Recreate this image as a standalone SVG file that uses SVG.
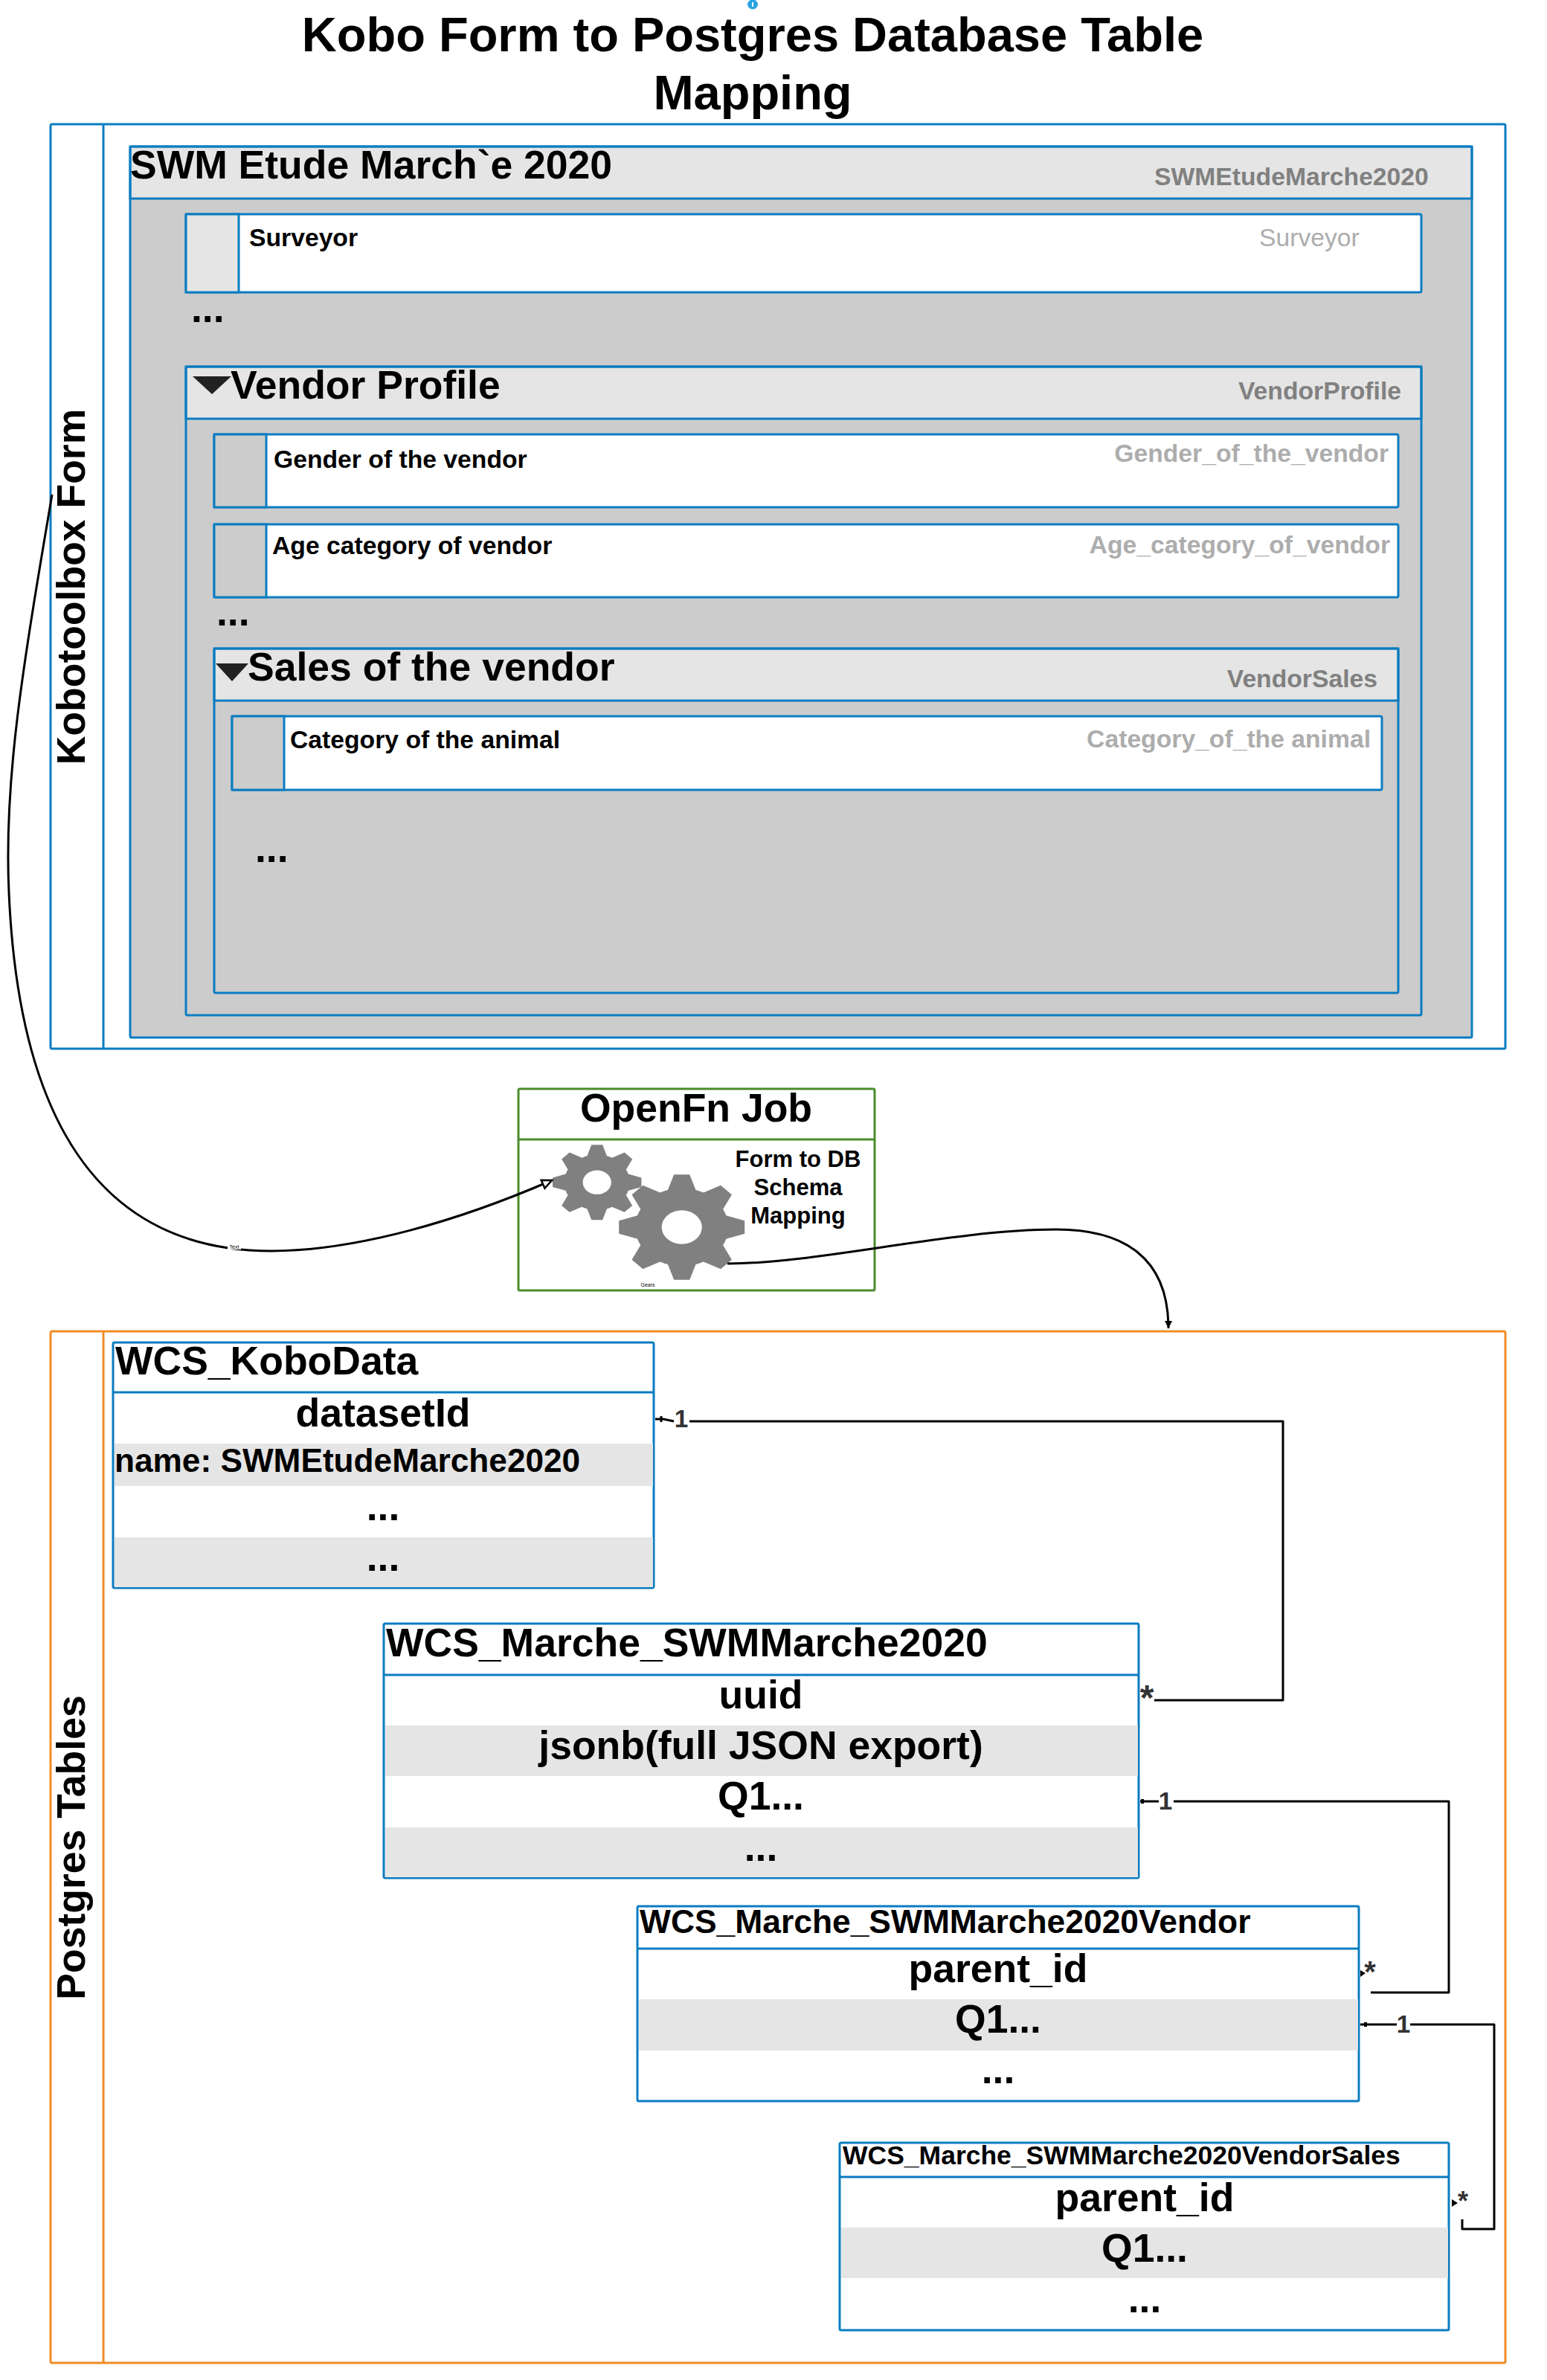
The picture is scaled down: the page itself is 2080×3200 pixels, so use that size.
<svg xmlns="http://www.w3.org/2000/svg" xmlns:xlink="http://www.w3.org/1999/xlink" width="2080" height="3200" viewBox="0 0 2080 3200">
<style>
text{font-family:"Liberation Sans",Arial,sans-serif;font-weight:bold;fill:#000}
.b{fill:none;stroke:#0b7cc1;stroke-width:3}
.w{fill:#fff;stroke:#0b7cc1;stroke-width:3}
.l{fill:#e5e5e5}
.c{fill:#ccc}
.g{fill:#e5e5e5;stroke:#0b7cc1;stroke-width:3}
.h{font-size:53.5px}
.m{font-size:44.2px}
.s{font-size:33.7px}
.n{font-weight:normal}
.gy{fill:#808080}
.lg{fill:#adadad}
.mid{text-anchor:middle}
.end{text-anchor:end}
.cn{fill:none;stroke:#000;stroke-width:3;stroke-linejoin:round}
.lb{fill:#333;font-size:33.33px}
.tiny{font-size:7px;font-weight:normal}
</style>
<defs>
<marker id="open" markerWidth="18" markerHeight="18" refX="15" refY="8" orient="auto" markerUnits="userSpaceOnUse"><path d="M2 2L15 8L2 14Z" fill="#fff" stroke="#000" stroke-width="2.5"/></marker>
<marker id="solid" markerWidth="14" markerHeight="14" refX="11" refY="6" orient="auto" markerUnits="userSpaceOnUse"><path d="M1 1L11 6L1 11Z" fill="#000"/></marker>
<g id="gear">
<circle r=".74" fill="#808080"/>
<g id="teeth" fill="#808080">
<path id="t" d="M-.25 -.62L-.125 -1L.125 -1L.25 -.62Z"/>
<use xlink:href="#t" transform="rotate(45)"/>
<use xlink:href="#t" transform="rotate(90)"/>
<use xlink:href="#t" transform="rotate(135)"/>
<use xlink:href="#t" transform="rotate(180)"/>
<use xlink:href="#t" transform="rotate(225)"/>
<use xlink:href="#t" transform="rotate(270)"/>
<use xlink:href="#t" transform="rotate(315)"/>
</g>
<circle r=".32" fill="#fff"/>
</g>
</defs>
<rect width="2080" height="3200" fill="#fff"/>

<g id="info"><ellipse cx="1012" cy="6" rx="7" ry="6.5" fill="#29a3e0"/><rect x="1011" y="3" width="2" height="6" fill="#fff"/></g>
<g id="title">
<text class="mid" x="1012" y="69" font-size="65">Kobo Form to Postgres Database Table</text>
<text class="mid" x="1012" y="147" font-size="65">Mapping</text>
</g>

<g id="kobo-pool">
<rect class="b" x="68" y="167" width="1956" height="1243" rx="2"/>
<line class="b" x1="139" y1="167" x2="139" y2="1410"/>
<text class="h mid" transform="translate(114 789) rotate(-90)">Kobotoolbox Form</text>
</g>
<g id="swm-form">
<rect class="c" x="175" y="197" width="1804" height="1198"/>
<rect class="g" x="175" y="197" width="1804" height="70"/>
<rect class="b" x="175" y="197" width="1804" height="1198" rx="2"/>
<text class="h" x="175" y="240">SWM Etude March`e 2020</text>
<text class="s gy" x="1552" y="249">SWMEtudeMarche2020</text>
</g>
<g id="surveyor">
<rect class="w" x="250" y="288" width="1661" height="105" rx="2"/>
<rect class="g" x="250" y="288" width="71" height="105"/>
<text class="s" x="335" y="331">Surveyor</text>
<text class="s n lg" x="1693" y="331">Surveyor</text>
</g>
<text id="dots1" class="h" x="257" y="433">...</text>
<g id="vendor-profile">
<rect class="c" x="250" y="493" width="1661" height="872"/>
<rect class="g" x="250" y="493" width="1661" height="70"/>
<rect class="b" x="250" y="493" width="1661" height="872" rx="2"/>
<path d="M259 506H311L285 530Z" fill="#222"/>
<text class="h" x="310" y="536">Vendor Profile</text>
<text class="s gy end" x="1884" y="537">VendorProfile</text>
</g>
<g id="gender">
<rect class="w" x="288" y="584" width="1592" height="98" rx="2"/>
<rect class="c" x="288" y="584" width="70" height="98" stroke="#0b7cc1" stroke-width="3"/>
<text class="s" x="368" y="629">Gender of the vendor</text>
<text class="s lg end" x="1867" y="621">Gender_of_the_vendor</text>
</g>
<g id="age">
<rect class="w" x="288" y="705" width="1592" height="98" rx="2"/>
<rect class="c" x="288" y="705" width="70" height="98" stroke="#0b7cc1" stroke-width="3"/>
<text class="s" x="366" y="745">Age category of vendor</text>
<text class="s lg end" x="1869" y="744">Age_category_of_vendor</text>
</g>
<text id="dots2" class="h" x="291" y="841">...</text>
<g id="vendor-sales">
<rect class="c" x="288" y="872" width="1592" height="463"/>
<rect class="g" x="288" y="872" width="1592" height="70"/>
<rect class="b" x="288" y="872" width="1592" height="463" rx="2"/>
<path d="M290 892H334L312 916Z" fill="#222"/>
<text class="h" x="333" y="915">Sales of the vendor</text>
<text class="s gy end" x="1852" y="924">VendorSales</text>
</g>
<g id="category">
<rect class="w" x="312" y="963" width="1546" height="99" rx="2"/>
<rect class="c" x="312" y="963" width="70" height="99" stroke="#0b7cc1" stroke-width="3"/>
<text class="s" x="390" y="1006">Category of the animal</text>
<text class="s lg end" x="1843" y="1005">Category_of_the animal</text>
</g>
<text id="dots3" class="h" x="343" y="1159">...</text>

<g id="openfn">
<rect x="697" y="1464" width="479" height="271" rx="2" fill="#fff" stroke="#4a8c2a" stroke-width="3"/>
<line x1="697" y1="1532" x2="1176" y2="1532" stroke="#4a8c2a" stroke-width="3"/>
<text class="h mid" x="936" y="1508">OpenFn Job</text>
<text class="mid" x="1073" y="1569" font-size="31">Form to DB</text>
<text class="mid" x="1073" y="1607" font-size="31">Schema</text>
<text class="mid" x="1073" y="1645" font-size="31">Mapping</text>
<use xlink:href="#gear" transform="translate(802.7 1589.7) scale(59.7 50.5)"/>
<use xlink:href="#gear" transform="translate(916.7 1650) scale(84.5 70.8)"/>
<text class="tiny mid" x="871" y="1730">Gears</text>
</g>

<g id="postgres-pool">
<rect x="68" y="1790" width="1956" height="1387" rx="2" fill="none" stroke="#f28c28" stroke-width="3"/>
<line x1="139" y1="1790" x2="139" y2="3177" stroke="#f28c28" stroke-width="3"/>
<text class="h mid" transform="translate(114 2484) rotate(-90)">Postgres Tables</text>
</g>

<g id="kobodata">
<rect class="w" x="152" y="1805" width="727" height="330" rx="2"/>
<rect class="l" x="154" y="1941" width="724" height="57"/>
<rect class="l" x="154" y="2067" width="724" height="67"/>
<line class="b" x1="152" y1="1872" x2="879" y2="1872"/>
<text class="h" x="155" y="1848">WCS_KoboData</text>
<text class="h mid" x="515" y="1918">datasetId</text>
<text class="m" x="154" y="1979">name: SWMEtudeMarche2020</text>
<text class="h mid" x="515" y="2044">...</text>
<text class="h mid" x="515" y="2112">...</text>
</g>
<g id="marche">
<rect class="w" x="516" y="2183" width="1015" height="342" rx="2"/>
<rect class="l" x="518" y="2320" width="1012" height="68"/>
<rect class="l" x="518" y="2457" width="1012" height="67"/>
<line class="b" x1="516" y1="2252" x2="1531" y2="2252"/>
<text class="h" x="519" y="2227">WCS_Marche_SWMMarche2020</text>
<text class="h mid" x="1023" y="2297">uuid</text>
<text class="h mid" x="1023" y="2365">jsonb(full JSON export)</text>
<text class="h mid" x="1023" y="2433">Q1...</text>
<text class="h mid" x="1023" y="2502">...</text>
</g>
<g id="vendor">
<rect class="w" x="857" y="2563" width="970" height="262" rx="2"/>
<rect class="l" x="859" y="2688" width="967" height="69"/>
<line class="b" x1="857" y1="2620" x2="1827" y2="2620"/>
<text x="860" y="2599" font-size="44.4">WCS_Marche_SWMMarche2020Vendor</text>
<text class="h mid" x="1342" y="2665">parent_id</text>
<text class="h mid" x="1342" y="2733">Q1...</text>
<text class="h mid" x="1342" y="2801">...</text>
</g>
<g id="vendorsales">
<rect class="w" x="1129" y="2881" width="819" height="252" rx="2"/>
<rect class="l" x="1131" y="2995" width="816" height="68"/>
<line class="b" x1="1129" y1="2927" x2="1948" y2="2927"/>
<text x="1133" y="2910" font-size="35.5">WCS_Marche_SWMMarche2020VendorSales</text>
<text class="h mid" x="1539" y="2973">parent_id</text>
<text class="h mid" x="1539" y="3041">Q1...</text>
<text class="h mid" x="1539" y="3109">...</text>
</g>

<g id="connectors">
<path class="cn" marker-end="url(#open)" d="M70 665C30 900 5 1050 12 1200C25 1500 130 1682 365 1682C480 1682 620 1640 742 1587"/>
<path class="cn" marker-end="url(#solid)" d="M978 1699C1100 1699 1280 1653 1420 1653C1510 1653 1571 1690 1571 1786"/>
<path class="cn" d="M927 1911H1725V2286H1552"/>
<path class="cn" d="M881 1908H892L906 1911"/>
<path class="cn" d="M889 1904V1912"/>
<path class="cn" d="M1533 2422H1558M1578 2422H1948V2679H1843"/>
<path class="cn" d="M1829 2722H1878M1896 2722H2009V2997H1966V2984"/>
<path d="M1829 2649L1836 2653L1829 2658Z" fill="#000"/>
<path d="M1952 2957L1960 2962L1952 2967Z" fill="#000"/>
<rect x="1834" y="2719" width="4" height="6"/>
<rect x="1534" y="2419" width="4" height="6"/>
<text class="lb mid" x="916" y="1919">1</text>
<text class="lb mid" x="1542" y="2299" style="font-size:48px">*</text>
<text class="lb mid" x="1567" y="2433">1</text>
<text class="lb mid" x="1842" y="2665" style="font-size:40px">*</text>
<text class="lb mid" x="1887" y="2733">1</text>
<text class="lb mid" x="1967" y="2972" style="font-size:36px">*</text>
<rect x="306" y="1672" width="18" height="8" fill="#fff"/>
<text class="tiny mid" x="315" y="1679">Text</text>
</g>
</svg>
